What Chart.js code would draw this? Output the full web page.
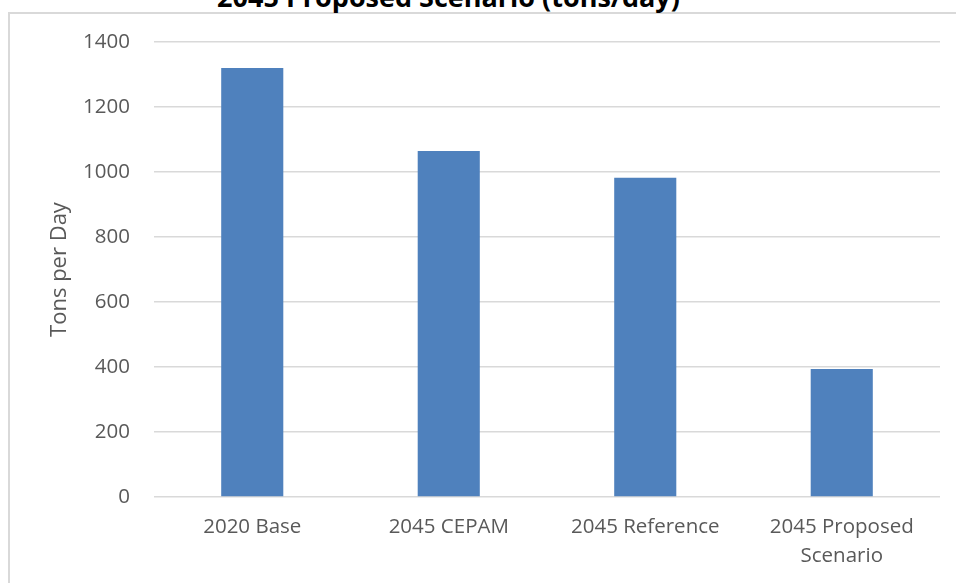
<!DOCTYPE html>
<html>
<head>
<meta charset="utf-8">
<script src="https://cdn.jsdelivr.net/npm/chart.js@4"></script>
<style>
  html, body { margin: 0; padding: 0; background: #fff; }
  #wrap { position: relative; width: 956px; height: 583px; overflow: hidden; }
  #frame { position: absolute; left: 8px; top: 12px; width: 960px; height: 600px;
           border-left: 2px solid #d9d9d9; border-top: 2px solid #d9d9d9; }
  #title { position: absolute; left: 0; width: 897px; top: -19px; text-align: center;
           font: bold 27px/32px 'Open Sans'; color: #000; white-space: nowrap; }
  #chart { position: absolute; left: 0; top: 0; }
</style>
</head>
<body>
<div id="wrap">
  <div id="frame"></div>
  <div id="title">2045 Proposed Scenario (tons/day)</div>
  <canvas id="chart" width="956" height="583"></canvas>
</div>
<script>
const categories = [['2020 Base'], ['2045 CEPAM'], ['2045 Reference'], ['2045 Proposed', 'Scenario']];
const tonsPerDay = [1320, 1065, 982, 394];
const yTicks = [0, 200, 400, 600, 800, 1000, 1200, 1400];

const textColor = '#595959';
const gridColor = '#d9d9d9';

new Chart(document.getElementById('chart').getContext('2d'), {
    type: 'bar',
    data: {
        labels: categories,
        datasets: [{
            data: tonsPerDay,
            backgroundColor: '#4f81bd',
            barPercentage: 0.316,
            categoryPercentage: 1,
        }]
    },
    options: {
        responsive: false,
        animation: false,
        layout: { padding: { left: 47, right: 16, top: 42, bottom: 0 } },
        plugins: {
            legend: { display: false },
            tooltip: { enabled: false },
            title: { display: false }
        },
        scales: {
            x: {
                grid: { display: false, drawTicks: false },
                border: { display: false },
                ticks: {
                    color: textColor,
                    font: { family: 'Open Sans', size: 20.5, lineHeight: 1.45 },
                    padding: 15,
                    maxRotation: 0,
                    autoSkip: false,
                },
                afterFit: axis => { axis.height = 86; }
            },
            y: {
                min: 0,
                max: 1400,
                afterBuildTicks: axis => { axis.ticks = yTicks.map(v => ({ value: v })); },
                grid: { color: gridColor, lineWidth: 1.5, drawTicks: false },
                border: { display: false },
                ticks: {
                    color: textColor,
                    font: { family: 'Open Sans', size: 20.5 },
                    padding: 24,
                    callback: v => String(v),
                },
                title: {
                    display: true,
                    text: 'Tons per Day',
                    color: textColor,
                    font: { family: 'Open Sans', size: 22 },
                    padding: { top: 0, bottom: 0 },
                },
                afterFit: axis => { axis.width = 107; }
            }
        }
    }
});
</script>
</body>
</html>
